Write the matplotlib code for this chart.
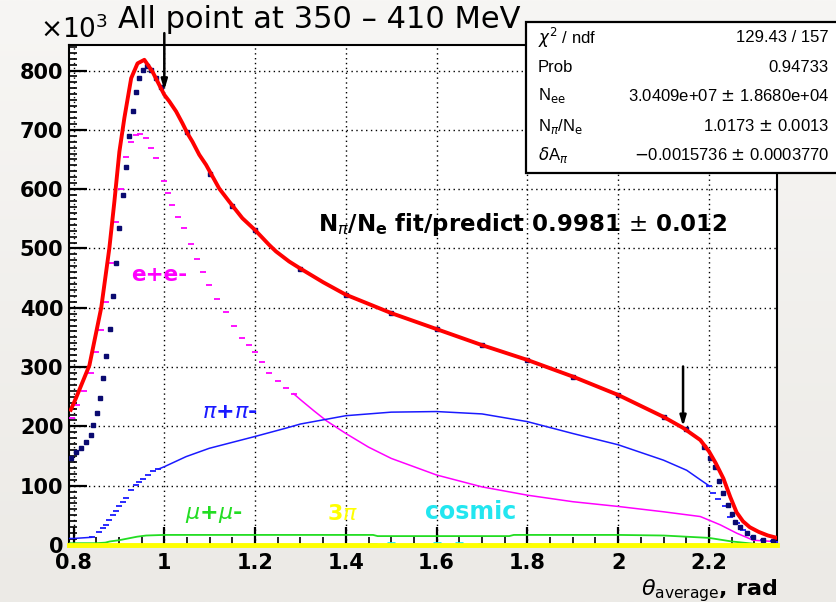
import numpy as np
import matplotlib
matplotlib.use("Agg")
import matplotlib.pyplot as plt
from matplotlib.patches import Rectangle
from matplotlib.colors import LinearSegmentedColormap

# ---------------- data (values in units of 10^3) ----------------
fit_x = [0.794, 0.805, 0.835, 0.861, 0.879, 0.890, 0.901, 0.912, 0.927, 0.941, 0.956, 0.974,
         1.0, 1.011, 1.026, 1.040, 1.051, 1.062, 1.077, 1.092, 1.121, 1.143, 1.172, 1.2,
         1.231, 1.246, 1.275, 1.3, 1.35, 1.4, 1.5, 1.6, 1.7, 1.8,
         1.9, 2.0, 2.1, 2.144, 2.181, 2.2, 2.215, 2.232, 2.247, 2.261, 2.275, 2.29, 2.31,
         2.33, 2.35]
fit_y = [228, 247, 303, 400, 501, 579, 663, 720, 787, 812, 818, 798,
         759, 748, 731, 711, 694, 680, 658, 641, 601, 579, 551, 531,
         506, 495, 478, 466, 443, 422, 391, 364, 337, 312,
         284, 253, 216, 197, 177, 158, 138, 112, 81, 55, 40, 30, 22,
         16, 12]

data_x = [0.794, 0.805, 0.816, 0.827, 0.839, 0.842, 0.851, 0.858, 0.864, 0.872, 0.880, 0.886,
          0.894, 0.901, 0.908, 0.916, 0.923, 0.930, 0.938, 0.945, 0.952, 0.961, 0.970, 0.982,
          0.993, 1.05, 1.10, 1.15, 1.20, 1.30, 1.40, 1.50, 1.60, 1.70, 1.80, 1.90, 2.00, 2.10,
          2.15, 2.19, 2.203, 2.214, 2.223, 2.232, 2.243, 2.250, 2.258, 2.269, 2.283, 2.298,
          2.320, 2.342]
data_y = [146, 157, 163, 174, 185, 202, 222, 247, 281, 318, 365, 419,
          475, 534, 590, 638, 689, 731, 764, 787, 801, 807, 801, 787,
          773, 696, 625, 572, 531, 466, 422, 391, 364, 337, 312, 284, 253, 216,
          195, 165, 146, 132, 108, 87, 67, 53, 39, 31, 20, 14,
          8, 6]

pipi_x = [0.79, 0.80, 0.82, 0.84, 0.857, 0.864, 0.871, 0.879, 0.886, 0.893, 0.901, 0.909,
          0.916, 0.927, 0.938, 0.945, 0.952, 0.963, 0.974, 0.987, 1.0,
          1.048, 1.099, 1.2, 1.268, 1.3, 1.4, 1.5, 1.6, 1.7, 1.8, 1.9, 2.0,
          2.1, 2.151, 2.181, 2.2, 2.21, 2.22, 2.236, 2.247, 2.261, 2.276, 2.298, 2.32,
          2.342, 2.35]
pipi_y = [11, 11, 12, 13, 22, 28, 34, 42, 51, 58, 65, 72,
          79, 93, 101, 107, 112, 118, 124, 128, 132,
          149, 163, 183, 197, 204, 218, 224, 225, 221, 208, 188, 169,
          143, 126, 110, 100, 87, 78, 65, 48, 37, 25, 14, 9,
          6, 5]

ee_x = [0.796, 0.808, 0.824, 0.839, 0.850, 0.861, 0.872, 0.884, 0.894, 0.905, 0.916, 0.927,
        0.938, 0.947, 0.960, 0.971, 0.982, 1.0, 1.009, 1.018, 1.031, 1.044, 1.058, 1.073,
        1.086, 1.099, 1.117, 1.136, 1.154, 1.172, 1.186, 1.2, 1.215, 1.231, 1.25, 1.268,
        1.285, 1.3, 1.33, 1.358, 1.4, 1.45, 1.5, 1.6, 1.7, 1.8, 1.9, 2.0, 2.1, 2.181,
        2.225, 2.261, 2.298, 2.342, 2.35]
ee_y = [214, 236, 259, 290, 326, 363, 410, 475, 545, 601, 655, 680,
        691, 693, 686, 669, 652, 613, 593, 573, 553, 534, 508, 483,
        460, 438, 415, 393, 370, 349, 337, 326, 308, 290, 277, 264,
        255, 245, 226, 209, 188, 165, 146, 118, 98, 84, 73, 65, 56, 48,
        34, 20, 8, 6, 5]

mumu_x = [0.79, 0.85, 0.87, 0.88, 0.90, 0.92, 0.94, 0.96, 1.0, 1.2, 1.46, 1.47, 1.76, 1.77,
          2.0, 2.1, 2.2, 2.25, 2.3, 2.35]
mumu_y = [3, 3, 4, 6, 8, 11, 14, 16, 17, 17, 17, 15, 15, 17,
          17, 16, 12, 6, 2, 1]

threepi_x = [0.79, 2.35]
threepi_y = [0, 0]

cosmic_x = [1.46, 1.50, 1.55, 1.60, 1.65, 1.70, 1.75, 1.80]
cosmic_y = [2, 3, 2, 3, 3, 2, 2, 1]

arrow_x = [1.0, 2.143]
arrow_top = [863, 301]
arrow_tip = [767, 200]

x_ticks = [0.8, 1.0, 1.2, 1.4, 1.6, 1.8, 2.0, 2.2]
x_ticklabels = ["0.8", "1", "1.2", "1.4", "1.6", "1.8", "2", "2.2"]
y_ticks = [0, 100, 200, 300, 400, 500, 600, 700, 800]

stat_names = [r"$\chi^{2}$ / ndf", "Prob", r"N$_{\rm ee}$", r"N$_{\pi}$/N$_{\rm e}$", r"$\delta$A$_{\pi}$"]
stat_values = ["129.43 / 157", "0.94733", r"3.0409e+07 $\pm$ 1.8680e+04",
               r"1.0173 $\pm$ 0.0013", r"$-$0.0015736 $\pm$ 0.0003770"]

# ---------------- figure ----------------
W, H = 837, 602
fig = plt.figure(figsize=(W / 100, H / 100), dpi=100)

# slide-like background
bg = fig.add_axes([0, 0, 1, 1], zorder=-10)
grad = np.linspace(0, 1, 256).reshape(-1, 1)
cmap = LinearSegmentedColormap.from_list("bg", ["#f7f6f4", "#eceae6"])
bg.imshow(grad, aspect="auto", cmap=cmap, extent=[0, 1, 0, 1])
bg.axis("off")

px = lambda v: v / W
py = lambda v: 1 - v / H
ax = fig.add_axes([px(69), py(545), px(777) - px(69), py(45) - py(545)])
ax.set_facecolor("white")

ax.set_xlim(0.79, 2.35)
ax.set_ylim(0, 843)

MAG = "#ff00ff"
BLU = "#1a1aff"

# e+e- : dashes on the steep part, line afterwards
n_ee_steep = 37
ax.plot(ee_x[:n_ee_steep], ee_y[:n_ee_steep], ls="none", marker="_", ms=5, mew=1.3,
        color=MAG, zorder=3)
ax.plot(ee_x[n_ee_steep - 1:], ee_y[n_ee_steep - 1:], color=MAG, lw=1.1, zorder=3)

# pi+pi-
ax.plot(pipi_x[:4], pipi_y[:4], color=BLU, lw=1.1, zorder=3)
ax.plot(pipi_x[3:20], pipi_y[3:20], ls="none", marker="_", ms=4, mew=1.3, color=BLU, zorder=3)
ax.plot(pipi_x[19:37], pipi_y[19:37], color=BLU, lw=1.1, zorder=3)
ax.plot(pipi_x[36:], pipi_y[36:], ls="none", marker="_", ms=4, mew=1.3, color=BLU, zorder=3)

ax.plot(mumu_x, mumu_y, color="#22dd22", lw=1.3, zorder=3)
ax.plot(cosmic_x, cosmic_y, ls="none", marker="_", ms=6, mew=2, color="#22e6f0", zorder=3)

ax.plot(data_x, data_y, ls="none", marker="s", ms=2.2, color="#0a0a70", zorder=4)
ax.plot(fit_x, fit_y, color="#ff0000", lw=2.8, zorder=5, solid_joinstyle="round")

ax.plot(threepi_x, threepi_y, color="#ffff00", lw=3.5, zorder=6, clip_on=False)

# arrows
for xa, yt, yb in zip(arrow_x, arrow_top, arrow_tip):
    ax.annotate("", xy=(xa, yb), xytext=(xa, yt), annotation_clip=False, zorder=7,
                arrowprops=dict(arrowstyle="-|>,head_length=0.6,head_width=0.18",
                                color="black", lw=1.8, shrinkA=0, shrinkB=0))

# ticks & grid
ax.set_xticks(x_ticks)
ax.set_xticklabels(x_ticklabels)
ax.set_yticks(y_ticks)
ax.set_xticks(np.arange(0.8, 2.36, 0.05), minor=True)
ax.set_yticks(np.arange(0, 841, 10), minor=True)
ax.tick_params(axis="both", which="major", direction="in", length=13, width=1.6,
               labelsize=15, top=False, right=False)
ax.tick_params(axis="both", which="minor", direction="in", length=6, width=1.2,
               top=False, right=False)
ax.tick_params(axis="x", pad=6)
ax.tick_params(axis="y", pad=4)
for lab in ax.get_xticklabels() + ax.get_yticklabels():
    lab.set_fontweight("bold")
ax.grid(True, which="major", ls=(0, (1, 2.5)), color="black", lw=1.0)
for s in ax.spines.values():
    s.set_linewidth(1.5)

# labels on the plot
ax.text(0.927, 455, "e+e-", color=MAG, va="center", ha="left", fontweight="bold", fontsize=15.5)
ax.text(1.083, 224, r"$\pi$+$\pi$-", color=BLU, va="center", ha="left", fontweight="bold", fontsize=16)
ax.text(1.046, 51, r"$\mu$+$\mu$-", color="#22dd22", va="center", ha="left", fontweight="bold", fontsize=16)
ax.text(1.359, 53, r"3$\pi$", color="#ffff00", va="center", ha="left", fontweight="bold", fontsize=16)
ax.text(1.575, 55, "cosmic", color="#22e6f0", va="center", ha="left", fontweight="bold", fontsize=17)
ax.text(1.339, 540, r"N$_{\pi}$/N$_{\mathbf{e}}$ fit/predict 0.9981 $\pm$ 0.012",
        color="black", va="center", ha="left", fontweight="bold", fontsize=16.5)

# axis title
fig.text(px(777), py(595), r"$\theta_{\rm average}$, rad", ha="right", va="baseline",
         fontsize=16, fontweight="bold")

# exponent and title
fig.text(px(40), py(30), r"$\times$10$^{3}$", ha="left", va="center", fontsize=19)
fig.text(px(118), py(19), "All point at 350 – 410 MeV", ha="left", va="center",
         fontsize=22, color="black")

# stats box
box = Rectangle((px(526), py(173)), px(850) - px(526), py(22) - py(173),
                transform=fig.transFigure, facecolor="white", edgecolor="black",
                lw=1.6, zorder=20, clip_on=False)
fig.patches.append(box)
row_y = [38, 67, 96, 126, 155]
for name, val, ry in zip(stat_names, stat_values, row_y):
    fig.text(px(538), py(ry), name, ha="left", va="center", fontsize=12,
             family="Liberation Sans", zorder=21)
    fig.text(px(829), py(ry), val, ha="right", va="center", fontsize=12,
             family="Liberation Sans", zorder=21)

fig.savefig("out.png", dpi=100)
